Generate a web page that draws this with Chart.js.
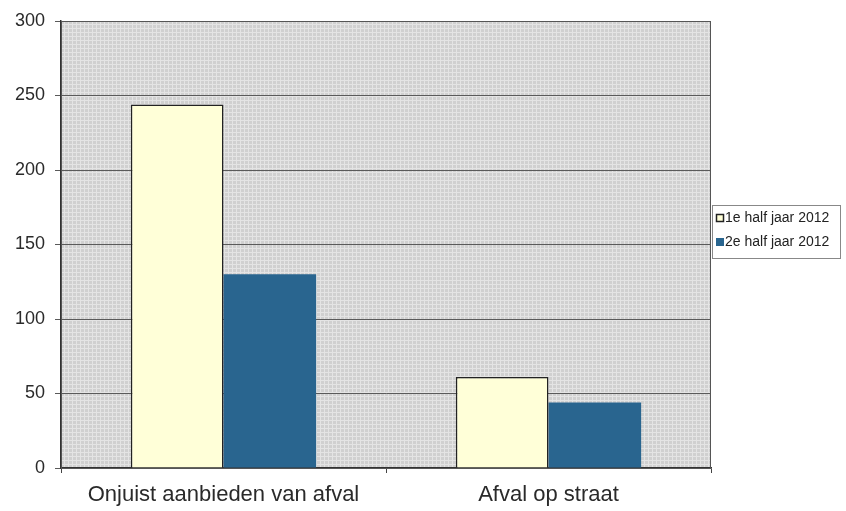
<!DOCTYPE html>
<html>
<head>
<meta charset="utf-8">
<script src="https://cdn.jsdelivr.net/npm/chart.js@4.4.1/dist/chart.umd.min.js"></script>
<style>
html,body{margin:0;padding:0;background:#fff;}
#wrap{width:846px;height:511px;position:relative;}
</style>
</head>
<body>
<div id="wrap"><canvas id="c" width="846" height="511"></canvas></div>
<script>
const categories = ["Onjuist aanbieden van afval", "Afval op straat"];
const seriesNames = ["1e half jaar 2012", "2e half jaar 2012"];
const firstHalf = [244, 61];
const secondHalf = [130, 44];
const yTicks = [0, 50, 100, 150, 200, 250, 300];

// textured plot background
const pc = document.createElement('canvas');
pc.width = 4; pc.height = 4;
const px = pc.getContext('2d');
px.fillStyle = '#d0d0d0'; px.fillRect(0,0,4,4);
px.fillStyle = '#e4e4e4'; px.fillRect(0,0,4,1); px.fillRect(0,0,1,4);

const plotBg = {
  id: 'plotBg',
  beforeDraw(chart) {
    const {ctx, chartArea: a} = chart;
    ctx.save();
    ctx.fillStyle = ctx.createPattern(pc, 'repeat');
    ctx.fillRect(a.left, a.top, a.right - a.left, a.bottom - a.top);
    ctx.restore();
  },
  afterDraw(chart) {
    const {ctx, chartArea: a} = chart;
    ctx.save();
    ctx.strokeStyle = '#555';
    ctx.lineWidth = 1;
    ctx.strokeRect(a.left + 0.5, a.top + 0.5, a.right - a.left - 1, a.bottom - a.top);
    // legend
    const lx = 712, ly = 205, lw = 128, lh = 53;
    ctx.fillStyle = '#fff';
    ctx.fillRect(lx, ly, lw, lh);
    ctx.strokeStyle = '#888';
    ctx.strokeRect(lx + 0.5, ly + 0.5, lw, lh);
    ctx.font = '14px "Liberation Sans", Arial, sans-serif';
    ctx.textBaseline = 'middle';
    chart.data.datasets.forEach((ds, i) => {
      const y = ly + 13 + i * 24;
      ctx.fillStyle = ds.backgroundColor;
      ctx.fillRect(lx + 4, y - 4, 8, 8);
      if (i === 0) { ctx.strokeStyle = '#222'; ctx.lineWidth = 1.5; ctx.strokeRect(lx + 4.5, y - 3.5, 7, 7); }
      ctx.fillStyle = '#222';
      ctx.fillText(ds.label, lx + 13, y);
    });
    ctx.restore();
  }
};

new Chart(document.getElementById('c'), {
  type: 'bar',
  data: {
    labels: categories,
    datasets: [
      { label: seriesNames[0], data: firstHalf, backgroundColor: '#ffffd8', borderColor: '#222', borderWidth: 1.5, borderSkipped: 'bottom' },
      { label: seriesNames[1], data: secondHalf, backgroundColor: '#29658f', borderWidth: 0 }
    ]
  },
  options: {
    responsive: false,
    animation: false,
    layout: { padding: { top: 21, right: 135, left: 0, bottom: 0 } },
    datasets: { bar: { categoryPercentage: 0.57, barPercentage: 1.0 } },
    plugins: { legend: { display: false }, tooltip: { enabled: false } },
    scales: {
      x: {
        grid: { display: true, drawOnChartArea: false, color: '#444', tickLength: 5, offset: true },
        border: { color: '#333', width: 1.5 },
        ticks: { color: '#2a2a2a', font: { family: '"Liberation Sans", Arial, sans-serif', size: 22 }, padding: 9 },
        afterFit(scale) { scale.height = 43; }
      },
      y: {
        min: 0, max: 300,
        afterBuildTicks(scale) { scale.ticks = yTicks.map(v => ({ value: v })); },
        grid: { color: '#5a5a5a', lineWidth: 1, tickLength: 6 },
        border: { color: '#333', width: 1.5 },
        ticks: { color: '#2a2a2a', font: { family: '"Liberation Sans", Arial, sans-serif', size: 18 }, padding: 10 },
        afterFit(scale) { scale.width = 61; }
      }
    }
  },
  plugins: [plotBg]
});
</script>
</body>
</html>
